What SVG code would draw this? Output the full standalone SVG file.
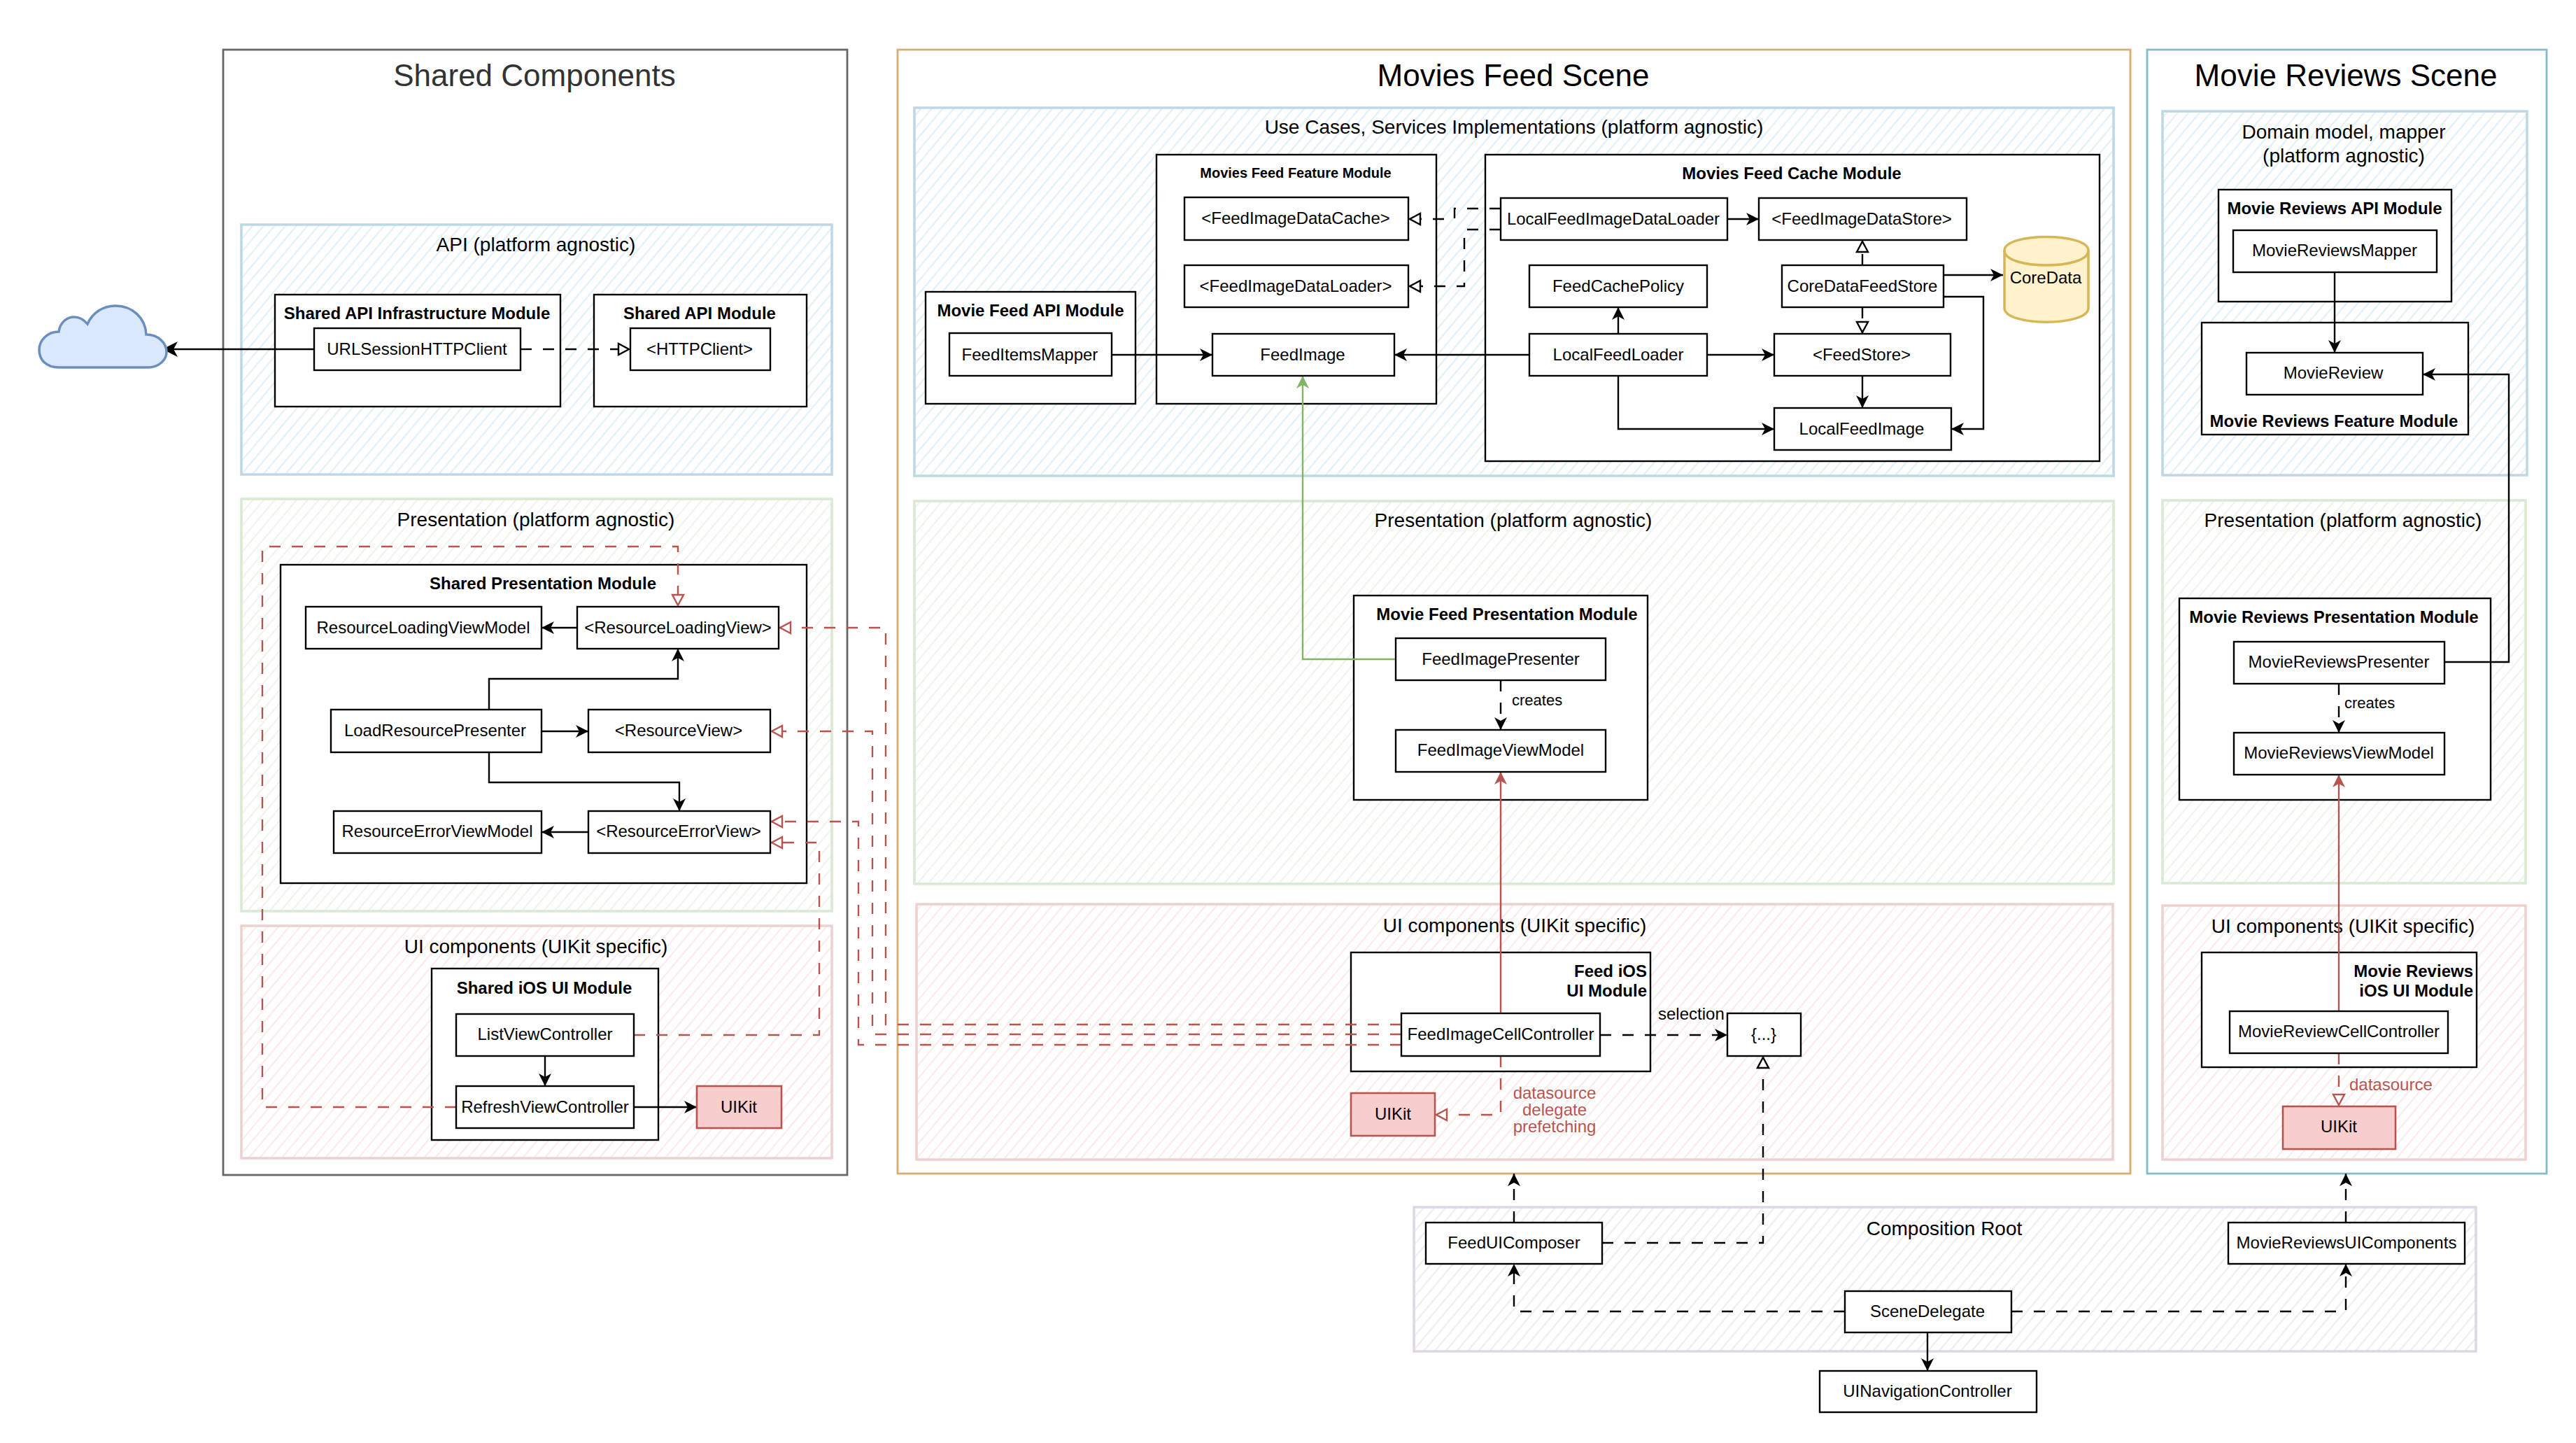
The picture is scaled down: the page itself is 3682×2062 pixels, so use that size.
<svg xmlns="http://www.w3.org/2000/svg" width="3682" height="2062" viewBox="0 0 3682 2062">
<style>
text{font-family:"Liberation Sans",Arial,sans-serif;fill:#000}
.n{font-size:24px;text-anchor:middle}
.b{font-size:24px;font-weight:bold;text-anchor:middle}
.bs{font-size:20px;font-weight:bold;text-anchor:middle}
.p{font-size:28px;text-anchor:middle}
.s{font-size:44px;text-anchor:middle}
.l{font-size:22px}
.r{fill:#b85450}
.e{text-anchor:end}
.box{fill:#fff;stroke:#000;stroke-width:2.4}
.mod{fill:#fff;stroke:#000;stroke-width:2.4}
.uik{fill:#f8cecc;stroke:#b85450;stroke-width:2.6}
.outer{fill:#fff;stroke-width:2.8}
.pb{fill:url(#hb);stroke:#bcd8e5;stroke-width:3.5}
.pg{fill:url(#hg);stroke:#d9e9d2;stroke-width:3.5}
.pr{fill:url(#hr);stroke:#eed0d0;stroke-width:3.5}
.pp{fill:url(#hp);stroke:#ded5e7;stroke-width:3.5}
.c{fill:none;stroke:#000;stroke-width:2.4}
.d{stroke-dasharray:16 16}
.cr{stroke:#b85450}
.cg{stroke:#82b366}
.a{marker-end:url(#a)}
.ab{marker-end:url(#ab)}
.ar{marker-end:url(#ar)}
.ag{marker-end:url(#ag)}
.o{marker-end:url(#o)}
.or{marker-end:url(#or)}
</style>
<defs>
<pattern id="hb" patternUnits="userSpaceOnUse" width="12" height="12" patternTransform="rotate(-50)"><rect width="12" height="12" fill="#fff"/><line x1="0" y1="4" x2="12" y2="4" stroke="#e2f0f8" stroke-width="2.2"/></pattern>
<pattern id="hg" patternUnits="userSpaceOnUse" width="12" height="12" patternTransform="rotate(-50)"><rect width="12" height="12" fill="#fff"/><line x1="0" y1="4" x2="12" y2="4" stroke="#eef5eb" stroke-width="2.2"/></pattern>
<pattern id="hr" patternUnits="userSpaceOnUse" width="12" height="12" patternTransform="rotate(-50)"><rect width="12" height="12" fill="#fff"/><line x1="0" y1="4" x2="12" y2="4" stroke="#fcebeb" stroke-width="2.2"/></pattern>
<pattern id="hp" patternUnits="userSpaceOnUse" width="12" height="12" patternTransform="rotate(-50)"><rect width="12" height="12" fill="#fff"/><line x1="0" y1="4" x2="12" y2="4" stroke="#f0ecf3" stroke-width="2.2"/></pattern>
<marker id="a" markerUnits="userSpaceOnUse" markerWidth="20" markerHeight="20" refX="18" refY="9" orient="auto" overflow="visible"><path d="M18,9 L0,0 L5,9 L0,18 Z" fill="#000"/></marker>
<marker id="ab" markerUnits="userSpaceOnUse" markerWidth="24" markerHeight="24" refX="22" refY="11" orient="auto" overflow="visible"><path d="M22,11 L0,0 L6,11 L0,22 Z" fill="#000"/></marker>
<marker id="ar" markerUnits="userSpaceOnUse" markerWidth="20" markerHeight="20" refX="18" refY="9" orient="auto" overflow="visible"><path d="M18,9 L0,0 L5,9 L0,18 Z" fill="#b85450"/></marker>
<marker id="ag" markerUnits="userSpaceOnUse" markerWidth="20" markerHeight="20" refX="18" refY="9" orient="auto" overflow="visible"><path d="M18,9 L0,0 L5,9 L0,18 Z" fill="#82b366"/></marker>
<marker id="o" markerUnits="userSpaceOnUse" markerWidth="20" markerHeight="20" refX="18" refY="9" orient="auto" overflow="visible"><path d="M16,9 L1,1 L1,17 Z" fill="#fff" stroke="#000" stroke-width="2.4"/></marker>
<marker id="or" markerUnits="userSpaceOnUse" markerWidth="20" markerHeight="20" refX="18" refY="9" orient="auto" overflow="visible"><path d="M16,9 L1,1 L1,17 Z" fill="#fff" stroke="#b85450" stroke-width="2.4"/></marker>
</defs>

<g id="scenes">
<rect class="outer" x="319" y="71" width="892" height="1608" stroke="#666"/>
<text class="s" x="764" y="123" style="fill:#333">Shared Components</text>
<rect class="outer" x="1283" y="71" width="1762" height="1606" stroke="#d9ac72"/>
<text class="s" x="2163" y="123">Movies Feed Scene</text>
<rect class="outer" x="3069" y="71" width="571" height="1606" stroke="#82bcc6"/>
<text class="s" x="3353" y="123">Movie Reviews Scene</text>
</g>

<g id="panels">
<g id="panel-shared-api"><rect class="pb" x="345" y="321" width="844" height="357"/><text class="p" x="766" y="359">API (platform agnostic)</text></g>
<g id="panel-shared-presentation"><rect class="pg" x="345" y="713" width="844" height="589"/><text class="p" x="766" y="752">Presentation (platform agnostic)</text></g>
<g id="panel-shared-ui"><rect class="pr" x="345" y="1323" width="844" height="332"/><text class="p" x="766" y="1362">UI components (UIKit specific)</text></g>
<g id="panel-feed-usecases"><rect class="pb" x="1307" y="154" width="1714" height="526"/><text class="p" x="2164" y="191">Use Cases, Services Implementations (platform agnostic)</text></g>
<g id="panel-feed-presentation"><rect class="pg" x="1307" y="716" width="1714" height="547"/><text class="p" x="2163" y="753">Presentation (platform agnostic)</text></g>
<g id="panel-feed-ui"><rect class="pr" x="1310" y="1292" width="1710" height="365"/><text class="p" x="2165" y="1332">UI components (UIKit specific)</text></g>
<g id="panel-reviews-domain"><rect class="pb" x="3091" y="159" width="521" height="520"/><text class="p" x="3350" y="198">Domain model, mapper</text><text class="p" x="3350" y="232">(platform agnostic)</text></g>
<g id="panel-reviews-presentation"><rect class="pg" x="3091" y="715" width="519" height="547"/><text class="p" x="3349" y="753">Presentation (platform agnostic)</text></g>
<g id="panel-reviews-ui"><rect class="pr" x="3091" y="1294" width="519" height="363"/><text class="p" x="3349" y="1333">UI components (UIKit specific)</text></g>
<g id="panel-composition"><rect class="pp" x="2021" y="1725" width="1518" height="206"/><text class="p" x="2779" y="1765">Composition Root</text></g>
</g>

<g id="modules">
<g id="mod-api-infra"><rect class="mod" x="393" y="421" width="408" height="160"/><text class="b" x="596" y="456">Shared API Infrastructure Module</text></g>
<g id="mod-api"><rect class="mod" x="849" y="421" width="304" height="160"/><text class="b" x="1000" y="456">Shared API Module</text></g>
<g id="mod-presentation"><rect class="mod" x="401" y="807" width="752" height="455"/><text class="b" x="776" y="842">Shared Presentation Module</text></g>
<g id="mod-ios-ui"><rect class="mod" x="617" y="1384" width="324" height="245"/><text class="b" x="778" y="1420">Shared iOS UI Module</text></g>
<g id="mod-feed-api"><rect class="mod" x="1323" y="417" width="300" height="160"/><text class="b" x="1473" y="452">Movie Feed API Module</text></g>
<g id="mod-feed-feature"><rect class="mod" x="1653" y="221" width="400" height="356"/><text class="bs" x="1852" y="254">Movies Feed Feature Module</text></g>
<g id="mod-feed-cache"><rect class="mod" x="2123" y="221" width="878" height="438"/><text class="b" x="2561" y="256">Movies Feed Cache Module</text></g>
<g id="mod-feed-presentation"><rect class="mod" x="1935" y="851" width="420" height="292"/><text class="b" x="2154" y="886">Movie Feed Presentation Module</text></g>
<g id="mod-feed-ios"><rect class="mod" x="1931" y="1361" width="428" height="170"/><text class="b e" x="2354" y="1396">Feed iOS</text><text class="b e" x="2354" y="1424">UI Module</text></g>
<g id="mod-reviews-api"><rect class="mod" x="3171" y="271" width="333" height="160"/><text class="b" x="3337" y="306">Movie Reviews API Module</text></g>
<g id="mod-reviews-feature"><rect class="mod" x="3147" y="461" width="381" height="160"/><text class="b" x="3336" y="610">Movie Reviews Feature Module</text></g>
<g id="mod-reviews-presentation"><rect class="mod" x="3115" y="855" width="445" height="288"/><text class="b" x="3336" y="890">Movie Reviews Presentation Module</text></g>
<g id="mod-reviews-ios"><rect class="mod" x="3147" y="1361" width="393" height="164"/><text class="b e" x="3535" y="1396">Movie Reviews</text><text class="b e" x="3535" y="1424">iOS UI Module</text></g>
</g>

<g id="connectors">
<path class="c ab" d="M449,499H232"/>
<path class="c d o" d="M744,499H901"/>
<path class="c a" d="M825,897H774"/>
<path class="c a" d="M699,1014V970H969V927"/>
<path class="c a" d="M774,1045H841"/>
<path class="c a" d="M699,1075V1118H971V1159"/>
<path class="c a" d="M841,1189H774"/>
<path class="c a" d="M779,1509V1552"/>
<path class="c a" d="M906,1582H996"/>
<path class="c d cr or" d="M652,1582H375V781H969V867"/>
<path class="c d cr or" d="M2003,1464H1266V897H1113"/>
<path class="c d cr or" d="M2003,1478H1247V1045H1101"/>
<path class="c d cr or" d="M2003,1493H1227V1174H1101"/>
<path class="c d cr or" d="M906,1479H1171V1204H1101"/>
<path class="c a" d="M1589,507H1733"/>
<path class="c a" d="M2186,507H1993"/>
<path class="c cg ag" d="M1995,942H1862V537"/>
<path class="c d o" d="M2145,298H2079V313H2013"/>
<path class="c d o" d="M2145,328H2093V409H2013"/>
<path class="c a" d="M2469,313H2514"/>
<path class="c d o" d="M2662,379V343"/>
<path class="c d o" d="M2662,439V477"/>
<path class="c a" d="M2778,393H2863"/>
<path class="c a" d="M2778,424H2835V613H2789"/>
<path class="c a" d="M2313,477V439"/>
<path class="c a" d="M2440,507H2536"/>
<path class="c a" d="M2662,537V583"/>
<path class="c a" d="M2313,537V613H2536"/>
<path class="c d a" d="M2145,972V1043"/>
<path class="c cr ar" d="M2145,1448V1103"/>
<path class="c d a" d="M2287,1479H2469"/>
<path class="c d cr or" d="M2145,1509V1593H2051"/>
<path class="c d o" d="M2290,1776H2520V1509"/>
<path class="c d a" d="M2164,1747V1677"/>
<path class="c d a" d="M3353,1747V1677"/>
<path class="c d a" d="M2637,1874H2164V1806"/>
<path class="c d a" d="M2875,1874H3353V1806"/>
<path class="c a" d="M2755,1904V1959"/>
<path class="c a" d="M3337,389V504"/>
<path class="c a" d="M3494,946H3586V535H3463"/>
<path class="c d a" d="M3343,977V1047"/>
<path class="c cr ar" d="M3343,1445V1107"/>
<path class="c d cr or" d="M3343,1505V1581"/>
</g>

<g id="cloud"><path d="M84,525C66,525 56,514 56,500C56,486 68,474 84,474C86,460 96,453 106,453C114,453 120,457 125,463C132,447 147,437 165,437C190,437 208,455 209,478C226,478 238,490 238,503C238,515 226,525 212,525Z" fill="#dae8fc" stroke="#6c8ebf" stroke-width="3.5"/></g>

<g id="n-urlsession"><rect class="box" x="449" y="469" width="295" height="60"/><text class="n" x="596" y="507">URLSessionHTTPClient</text></g>
<g id="n-httpclient"><rect class="box" x="901" y="469" width="200" height="60"/><text class="n" x="1000" y="507">&lt;HTTPClient&gt;</text></g>
<g id="n-rlvm"><rect class="box" x="437" y="867" width="337" height="60"/><text class="n" x="605" y="905">ResourceLoadingViewModel</text></g>
<g id="n-rlv"><rect class="box" x="825" y="867" width="288" height="60"/><text class="n" x="969" y="905">&lt;ResourceLoadingView&gt;</text></g>
<g id="n-lrp"><rect class="box" x="473" y="1014" width="301" height="61"/><text class="n" x="622" y="1052">LoadResourcePresenter</text></g>
<g id="n-rv"><rect class="box" x="841" y="1014" width="260" height="61"/><text class="n" x="970" y="1052">&lt;ResourceView&gt;</text></g>
<g id="n-revm"><rect class="box" x="477" y="1159" width="297" height="60"/><text class="n" x="625" y="1196">ResourceErrorViewModel</text></g>
<g id="n-rev"><rect class="box" x="841" y="1159" width="260" height="60"/><text class="n" x="970" y="1196">&lt;ResourceErrorView&gt;</text></g>
<g id="n-lvc"><rect class="box" x="652" y="1449" width="254" height="60"/><text class="n" x="779" y="1486">ListViewController</text></g>
<g id="n-rvc"><rect class="box" x="652" y="1552" width="254" height="60"/><text class="n" x="779" y="1590">RefreshViewController</text></g>
<g id="n-uikit1"><rect class="uik" x="996" y="1552" width="121" height="60"/><text class="n" x="1056" y="1590">UIKit</text></g>
<g id="n-mapper"><rect class="box" x="1357" y="476" width="232" height="61"/><text class="n" x="1472" y="515">FeedItemsMapper</text></g>
<g id="n-cache"><rect class="box" x="1693" y="282" width="320" height="61"/><text class="n" x="1852" y="320">&lt;FeedImageDataCache&gt;</text></g>
<g id="n-loader"><rect class="box" x="1693" y="379" width="320" height="60"/><text class="n" x="1852" y="417">&lt;FeedImageDataLoader&gt;</text></g>
<g id="n-feedimage"><rect class="box" x="1733" y="477" width="260" height="60"/><text class="n" x="1862" y="515">FeedImage</text></g>
<g id="n-lfidl"><rect class="box" x="2145" y="283" width="324" height="60"/><text class="n" x="2306" y="321">LocalFeedImageDataLoader</text></g>
<g id="n-fids"><rect class="box" x="2514" y="283" width="297" height="60"/><text class="n" x="2661" y="321">&lt;FeedImageDataStore&gt;</text></g>
<g id="n-fcp"><rect class="box" x="2186" y="379" width="254" height="60"/><text class="n" x="2313" y="417">FeedCachePolicy</text></g>
<g id="n-cdfs"><rect class="box" x="2547" y="379" width="231" height="60"/><text class="n" x="2662" y="417">CoreDataFeedStore</text></g>
<g id="n-lfl"><rect class="box" x="2186" y="477" width="254" height="60"/><text class="n" x="2313" y="515">LocalFeedLoader</text></g>
<g id="n-fs"><rect class="box" x="2536" y="477" width="252" height="60"/><text class="n" x="2661" y="515">&lt;FeedStore&gt;</text></g>
<g id="n-lfi"><rect class="box" x="2536" y="583" width="253" height="60"/><text class="n" x="2661" y="621">LocalFeedImage</text></g>
<g id="n-coredata"><path d="M2865,358C2865,332 2985,332 2985,358V440C2985,467 2865,467 2865,440Z" fill="#fff2cc" stroke="#d6b656" stroke-width="3.5"/><path d="M2865,358C2865,386 2985,386 2985,358" fill="none" stroke="#d6b656" stroke-width="3.5"/><text class="n" x="2924" y="405">CoreData</text></g>
<g id="n-fip"><rect class="box" x="1995" y="912" width="300" height="60"/><text class="n" x="2145" y="950">FeedImagePresenter</text></g>
<g id="n-fivm"><rect class="box" x="1995" y="1043" width="300" height="60"/><text class="n" x="2145" y="1080">FeedImageViewModel</text></g>
<text class="l" x="2161" y="1008">creates</text>
<g id="n-ficc"><rect class="box" x="2003" y="1448" width="284" height="61"/><text class="n" x="2145" y="1486">FeedImageCellController</text></g>
<g id="n-closure"><rect class="box" x="2469" y="1448" width="105" height="61"/><text class="n" x="2521" y="1486">{...}</text></g>
<text class="n" style="text-anchor:start" x="2370" y="1457">selection</text>
<g id="n-uikit2"><rect class="uik" x="1931" y="1562" width="120" height="61"/><text class="n" x="1991" y="1600">UIKit</text></g>
<text class="n r" x="2222" y="1570">datasource</text><text class="n r" x="2222" y="1594">delegate</text><text class="n r" x="2222" y="1618">prefetching</text>
<g id="n-fuc"><rect class="box" x="2038" y="1747" width="252" height="59"/><text class="n" x="2164" y="1784">FeedUIComposer</text></g>
<g id="n-mruc"><rect class="box" x="3185" y="1747" width="338" height="59"/><text class="n" x="3354" y="1784">MovieReviewsUIComponents</text></g>
<g id="n-sd"><rect class="box" x="2637" y="1845" width="238" height="59"/><text class="n" x="2755" y="1882">SceneDelegate</text></g>
<g id="n-nav"><rect class="box" x="2601" y="1959" width="310" height="59"/><text class="n" x="2755" y="1996">UINavigationController</text></g>
<g id="n-mrm"><rect class="box" x="3192" y="329" width="291" height="60"/><text class="n" x="3337" y="366">MovieReviewsMapper</text></g>
<g id="n-mr"><rect class="box" x="3211" y="504" width="252" height="60"/><text class="n" x="3335" y="541">MovieReview</text></g>
<g id="n-mrp"><rect class="box" x="3193" y="917" width="301" height="60"/><text class="n" x="3343" y="954">MovieReviewsPresenter</text></g>
<g id="n-mrvm"><rect class="box" x="3193" y="1047" width="301" height="60"/><text class="n" x="3343" y="1084">MovieReviewsViewModel</text></g>
<text class="l" x="3351" y="1012">creates</text>
<g id="n-mrcc"><rect class="box" x="3187" y="1445" width="312" height="60"/><text class="n" x="3343" y="1482">MovieReviewCellController</text></g>
<g id="n-uikit3"><rect class="uik" x="3263" y="1581" width="161" height="61"/><text class="n" x="3343" y="1618">UIKit</text></g>
<text class="n r" style="text-anchor:start" x="3358" y="1558">datasource</text>
</svg>
